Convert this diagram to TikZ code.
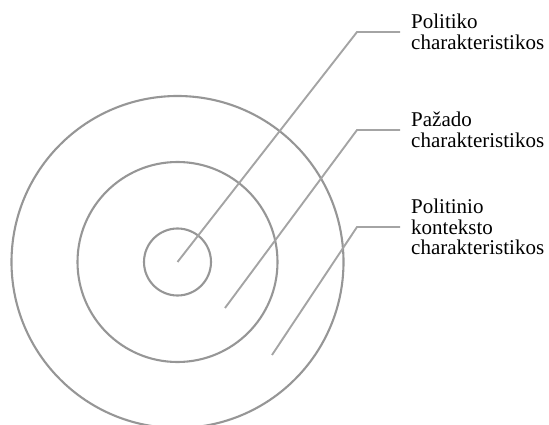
\documentclass[tikz,border=0pt]{standalone}
\usepackage{fontspec}
\setmainfont{Liberation Serif}
\definecolor{ring-gray}{HTML}{969696}
\definecolor{leader-gray}{HTML}{A4A4A4}
\tikzset{
  ring/.style={circle, draw=ring-gray, line width=2.1pt, inner sep=0pt},
  leader/.style={draw=leader-gray, line width=1.9pt},
  caption/.style={anchor=west, align=left, inner xsep=11pt, inner ysep=0pt,
    font=\fontsize{21}{20.7}\selectfont}
}

\begin{document}
\begin{tikzpicture}[x=1pt, y=-1pt]
    \useasboundingbox (0,0) rectangle (549,425);
    % three rings
    \node[ring, minimum size=332pt] (context) at (177.5,262) {};
    \node[ring, minimum size=200pt] (field) at (177.5,262) {};
    \node[ring, minimum size=67pt] (core) at (177.5,262) {};
    % labels
    \node[caption] (lblcore) at (400,32) {Politiko\\charakteristikos};
    \node[caption] (lblfield) at (400,130) {Pažado\\charakteristikos};
    \node[caption] (lblcontext) at (400,227) {Politinio\\konteksto\\charakteristikos};
    % leader lines
    \coordinate (startfield) at (225,308);
    \coordinate (startcontext) at (272,355);
    \coordinate (bendcore) at (357,32);
    \coordinate (bendfield) at (357,130);
    \coordinate (bendcontext) at (357,227);
    \draw[leader] (core.center) -- (bendcore) -- (lblcore.west);
    \draw[leader] (startfield) -- (bendfield) -- (lblfield.west);
    \draw[leader] (startcontext) -- (bendcontext) -- (lblcontext.west);
  \end{tikzpicture}
\end{document}
